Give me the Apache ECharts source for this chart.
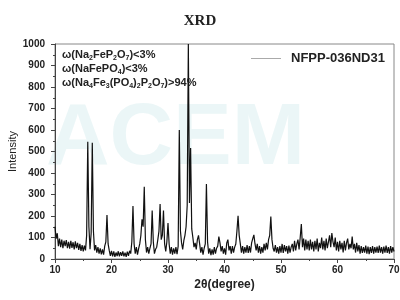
<!DOCTYPE html>
<html>
<head>
<meta charset="utf-8">
<script src="https://cdn.jsdelivr.net/npm/echarts@6/dist/echarts.min.js"></script>
<style>html,body{margin:0;padding:0;background:#fff}#c{width:400px;height:300px}</style>
</head>
<body>
<div id="c"></div>
<script>
// scan: 2theta from 10 to 70 deg, step 0.2 deg
const scanStart = 10;
const scanStep = 0.2;
const seriesName = 'NFPP-036ND31';
const xTicks = [10, 20, 30, 40, 50, 60, 70];
const yTicks = [0, 100, 200, 300, 400, 500, 600, 700, 800, 900, 1000];
// intensity, 5 points per degree
const intensity = [
  150, 95, 120, 60, 95,      // 10
  55, 90, 50, 85, 60,        // 11
  88, 50, 80, 48, 85,        // 12
  52, 78, 45, 82, 50,        // 13
  75, 42, 70, 38, 65,        // 14
  35, 62, 40, 110, 545,      // 15
  150, 45, 120, 541, 130,    // 16
  40, 65, 30, 55, 25,        // 17
  50, 22, 45, 20, 60,        // 18
  80, 205, 70, 40, 15,       // 19
  38, 12, 35, 10, 30,        // 20
  14, 36, 12, 32, 15,        // 21
  35, 12, 30, 10, 34,        // 22
  15, 38, 25, 80, 246,       // 23
  70, 25, 55, 20, 48,        // 24
  70, 110, 185, 150, 336,    // 25
  90, 30, 55, 25, 50,        // 26
  70, 225, 80, 25, 45,       // 27
  55, 90, 130, 256, 90,      // 28
  110, 225, 70, 35, 80,      // 29
  167, 70, 25, 55, 20,       // 30
  50, 25, 55, 22, 60,        // 31
  600, 130, 75, 45, 85,      // 32
  110, 150, 250, 1000, 260,  // 33
  516, 140, 100, 55, 75,     // 34
  45, 90, 110, 70, 30,       // 35
  55, 20, 50, 70, 349,       // 36
  80, 25, 50, 18, 45,        // 37
  20, 55, 25, 50, 60,        // 38
  104, 75, 35, 60, 25,       // 39
  50, 20, 75, 90, 40,        // 40
  60, 25, 60, 30, 55,        // 41
  70, 130, 201, 110, 70,     // 42
  30, 60, 25, 55, 30,        // 43
  65, 28, 60, 30, 75,        // 44
  95, 112, 70, 40, 70,       // 45
  30, 60, 25, 55, 30,        // 46
  70, 40, 75, 45, 90,        // 47
  110, 197, 90, 50, 35,      // 48
  65, 30, 55, 25, 60,        // 49
  30, 70, 28, 65, 35,        // 50
  60, 25, 62, 30, 55,        // 51
  70, 35, 85, 40, 70,        // 52
  90, 45, 100, 163, 55,      // 53
  95, 40, 90, 45, 85,        // 54
  40, 90, 45, 80, 35,        // 55
  85, 45, 95, 35, 75,        // 56
  50, 100, 45, 85, 40,       // 57
  95, 50, 80, 110, 55,       // 58
  121, 80, 55, 100, 40,      // 59
  80, 35, 85, 45, 75,        // 60
  30, 85, 40, 75, 95,        // 61
  45, 70, 50, 104, 45,       // 62
  70, 30, 75, 35, 65,        // 63
  25, 60, 28, 55, 30,        // 64
  62, 25, 58, 22, 55,        // 65
  28, 60, 25, 55, 30,        // 66
  58, 28, 62, 30, 55,        // 67
  25, 58, 30, 62, 28,        // 68
  55, 25, 60, 30, 55,        // 69
  35                         // 70
];

const data = intensity.map((v, i) => [scanStart + i * scanStep, v]);

const chart = echarts.init(document.getElementById('c'), null, {renderer: 'canvas'});
const lblFont = {fontFamily: 'Liberation Sans, Arial, sans-serif', fontWeight: 'bold', fontSize: 10, color: '#222'};
chart.setOption({
  animation: false,
  backgroundColor: '#fff',
  title: {
    text: 'XRD', left: 'center', top: 9,
    textStyle: {fontFamily: 'Liberation Serif, serif', fontWeight: 'bold', fontSize: 15, color: '#222'}
  },
  legend: {
    data: [seriesName], left: 246, top: 47,
    icon: 'rect', itemWidth: 30, itemHeight: 1,
    itemStyle: {color: '#aaa', borderWidth: 0},
    textStyle: {fontFamily: 'Liberation Sans, Arial, sans-serif', fontWeight: 'bold', fontSize: 13, color: '#222', padding: [0, 0, 0, 5]}
  },
  grid: {left: 55, right: 6, top: 44, bottom: 41, show: true, borderColor: '#888', borderWidth: 1,
         containLabel: false, outerBoundsMode: 'none'},
  xAxis: {
    type: 'value', min: xTicks[0], max: xTicks[xTicks.length - 1], interval: 10,
    name: '2θ(degree)', nameLocation: 'middle', nameGap: 20, nameMoveOverlap: false,
    nameTextStyle: {fontFamily: 'Liberation Sans, Arial, sans-serif', fontWeight: 'bold', fontSize: 12, color: '#222'},
    axisLine: {lineStyle: {color: '#444'}},
    axisTick: {inside: false, length: 4, lineStyle: {color: '#444'}},
    minorTick: {show: true, splitNumber: 2, length: 2, lineStyle: {color: '#444'}},
    splitLine: {show: false},
    axisLabel: Object.assign({margin: 6, formatter: v => String(v)}, lblFont)
  },
  yAxis: {
    type: 'value', min: yTicks[0], max: yTicks[yTicks.length - 1], interval: 100,
    name: 'Intensity', nameLocation: 'middle', nameGap: 37, nameRotate: 90, nameMoveOverlap: false,
    nameTextStyle: {fontFamily: 'Liberation Sans, Arial, sans-serif', fontSize: 11, color: '#222'},
    axisLine: {show: true, lineStyle: {color: '#444'}},
    axisTick: {show: true, inside: false, length: 4, lineStyle: {color: '#444'}},
    minorTick: {show: true, splitNumber: 2, length: 2, lineStyle: {color: '#444'}},
    splitLine: {show: false},
    axisLabel: Object.assign({margin: 10, formatter: v => String(v)}, lblFont)
  },
  graphic: [
    {
      type: 'text', left: 46, top: 96, z: -1, silent: true,
      style: {text: 'ACEM', font: 'bold 88px Liberation Sans, Arial, sans-serif', fill: 'rgba(130,200,205,0.16)'}
    },
    {
      type: 'text', left: 62, top: 49, z: 10,
      style: {
        text: '{t|ω(Na}{s|2}{t|FeP}{s|2}{t|O}{s|7}{t|)<3%}\n{t|ω(NaFePO}{s|4}{t|)<3%}\n{t|ω(Na}{s|4}{t|Fe}{s|3}{t|(PO}{s|4}{t|)}{s|2}{t|P}{s|2}{t|O}{s|7}{t|)>94%}',
        rich: {
          t: {font: 'bold 11px Liberation Sans, Arial, sans-serif', fill: '#222', lineHeight: 14, verticalAlign: 'bottom'},
          s: {font: 'bold 7px Liberation Sans, Arial, sans-serif', fill: '#222', lineHeight: 14, verticalAlign: 'bottom', padding: [0, 0, -2, 0]}
        }
      }
    }
  ],
  series: [{
    name: seriesName, type: 'line', data: data,
    showSymbol: false, symbol: 'none', clip: true,
    lineStyle: {color: '#111', width: 1.2},
    itemStyle: {color: '#aaa'}
  }]
});
</script>
</body>
</html>
